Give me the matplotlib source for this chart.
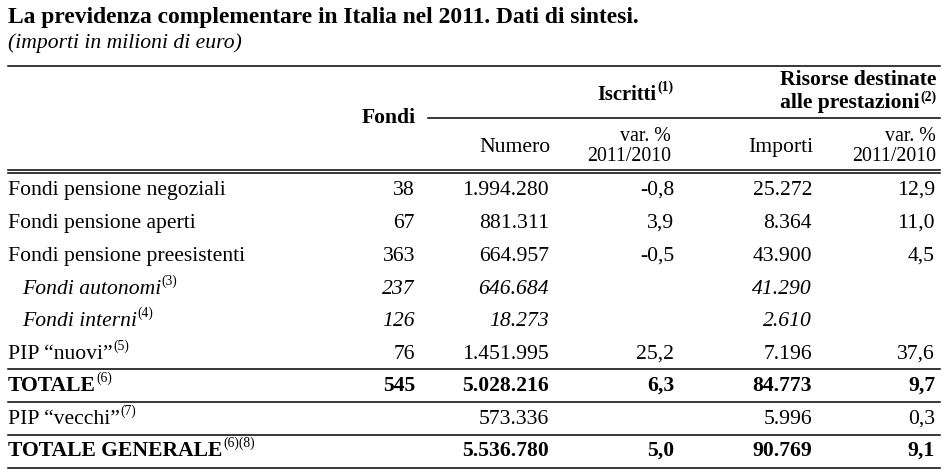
import matplotlib
matplotlib.use("Agg")
import matplotlib.pyplot as plt

# table contents
rows = ["Fondi pensione negoziali", "Fondi pensione aperti", "Fondi pensione preesistenti",
        "Fondi autonomi", "Fondi interni", "PIP \u201cnuovi\u201d", "TOTALE",
        "PIP \u201cvecchi\u201d", "TOTALE GENERALE"]
row_notes = ["", "", "", "(3)", "(4)", "(5)", "(6)", "(7)", "(6)(8)"]
fondi = [38, 67, 363, 237, 126, 76, 545, None, None]
iscritti = [1994280, 881311, 664957, 646684, 18273, 1451995, 5028216, 573336, 5536780]
var_iscritti = [-0.8, 3.9, -0.5, None, None, 25.2, 6.3, None, 5.0]
importi = [25272, 8364, 43900, 41290, 2610, 7196, 84773, 5996, 90769]
var_importi = [12.9, 11.0, 4.5, None, None, 37.6, 9.7, 0.3, 9.1]
italic_rows = [3, 4]
bold_rows = [6, 8]

SERIF = "Liberation Serif"
BODY = 15.6
NOTE = 9.8


def fmt_int(v):
    if v is None:
        return ""
    return f"{v:,}".replace(",", ".")


def fmt_dec(v):
    if v is None:
        return ""
    return f"{v:.1f}".replace(".", ",")


fig = plt.figure(figsize=(9.46, 4.73), dpi=100)
ax = fig.add_axes([0, 0, 1, 1])
ax.set_xlim(0, 946)
ax.set_ylim(473, 0)
ax.axis("off")
fig.canvas.draw()
renderer = fig.canvas.get_renderer()


def put(x, y, s, ha="left", size=BODY, weight="normal", style="normal",
        note="", note_weight="normal"):
    t = ax.text(x, y, s, ha=ha, va="center", fontsize=size, family=SERIF,
                fontweight=weight, fontstyle=style)
    if note:
        bb = t.get_window_extent(renderer)
        x1, _ = ax.transData.inverted().transform((bb.x1, bb.y0))
        ax.text(x1 + 0.5, y - 8, note, ha="left", va="center", fontsize=NOTE,
                family=SERIF, fontweight=note_weight)
    return t


def put_right(x, y, s, note, size=BODY, weight="normal", lift=8):
    # right aligned text that ends with a superscript note
    n = ax.text(x, y - lift, note, ha="right", va="center", fontsize=NOTE,
                family=SERIF, fontweight=weight)
    bb = n.get_window_extent(renderer)
    x0, _ = ax.transData.inverted().transform((bb.x0, bb.y0))
    ax.text(x0 - 0.5, y, s, ha="right", va="center", fontsize=size,
            family=SERIF, fontweight=weight)


# title
put(8, 18, "La previdenza complementare in Italia nel 2011. Dati di sintesi.",
    size=16.9, weight="bold")
put(8, 43, "(importi in milioni di euro)", size=15.6, style="italic")

# rules
ax.plot([8, 940], [66, 66], color="black", lw=1.1)
ax.plot([428, 940], [118, 118], color="black", lw=1.1)
ax.plot([8, 940], [170, 170], color="black", lw=1.1)
ax.plot([8, 940], [173, 173], color="black", lw=1.1)
for yy in [369, 402, 435, 468]:
    ax.plot([8, 940], [yy, yy], color="black", lw=1.1)

# header
put(389, 118, "Fondi", ha="center", weight="bold")
put_right(673, 95, "Iscritti", "(1)", size=14.8, weight="bold")
put(936, 80, "Risorse destinate", ha="right", weight="bold")
put_right(936, 103, "alle prestazioni", "(2)", weight="bold", lift=6)
put(515, 147, "Numero", ha="center")
put(671, 136, "var. %", ha="right", size=14.3)
put(671, 156, "2011/2010", ha="right", size=14.3)
put(781, 147, "Importi", ha="center")
put(936, 136, "var. %", ha="right", size=14.3)
put(936, 156, "2011/2010", ha="right", size=14.3)

# body
col_x = [415, 549, 674, 812, 935]
row_y = [190, 223, 256, 289, 321, 354, 386, 419, 451]
for i, label in enumerate(rows):
    y = row_y[i]
    w = "bold" if i in bold_rows else "normal"
    st = "italic" if i in italic_rows else "normal"
    lx = 22 if i in italic_rows else 8
    put(lx, y, label, weight=w, style=st, note=row_notes[i])
    vals = [fmt_int(fondi[i]), fmt_int(iscritti[i]), fmt_dec(var_iscritti[i]),
            fmt_int(importi[i]), fmt_dec(var_importi[i])]
    for cx, v in zip(col_x, vals):
        if v:
            put(cx, y, v, ha="right", weight=w, style=st)

fig.savefig("out.png", dpi=100)
